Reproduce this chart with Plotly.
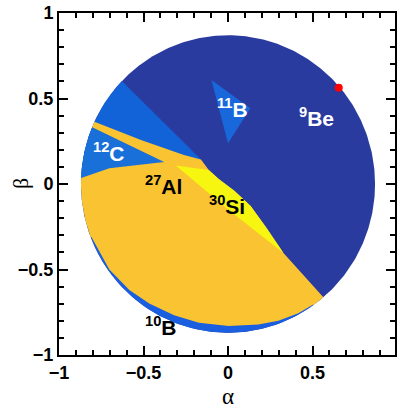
import numpy as np
import plotly.graph_objects as go

# ---------------------------------------------------------------- axes
X_RANGE = [-1.0, 0.988]
Y_RANGE = [-1.0, 1.0]
TICK_VALS = [-1.0, -0.5, 0.0, 0.5, 1.0]
TICK_TEXT = ["\u22121", "\u22120.5", "0", "0.5", "1"]
MINOR_STEP = 0.1

# ------------------------------------------------- (alpha, beta) disk
DISK_RADIUS = 0.87

# upper-left blue wedge (edge points and inner corner points)
WEDGE_EDGE_TOP = (-0.624, 0.598)
WEDGE_EDGE_LOW = (-0.869, -0.030)

# 27Al : top edge of the main region, from the disk edge to the tip
AL27_TOP_ALPHA = [-0.869, -0.702, -0.378]
AL27_TOP_BETA = [0.035, 0.092, 0.128]

# 27Al : thin stripe, lower edge (tip -> disk edge) and upper edge
STRIPE_LOW_ALPHA = [-0.378, -0.515, -0.800]
STRIPE_LOW_BETA = [0.128, 0.193, 0.326]
STRIPE_UP_ALPHA = [-0.790, -0.515, -0.261, -0.160]
STRIPE_UP_BETA = [0.364, 0.257, 0.170, 0.143]

# border between the 9Be region and the 27Al / 30Si regions
BE9_BORDER_ALPHA = [-0.160, -0.114, -0.055, 0.039, 0.134, 0.228, 0.328, 0.445, 0.563]
BE9_BORDER_BETA = [0.143, 0.082, 0.029, -0.041, -0.129, -0.257, -0.404, -0.532, -0.661]

# inner edge of the 10B rim along the bottom of the disk (left -> right)
B10_INNER_ALPHA = [-0.808, -0.702, -0.584, -0.466, -0.319, -0.172, 0.004, 0.180, 0.298, 0.416, 0.504]
B10_INNER_BETA = [-0.310, -0.500, -0.620, -0.699, -0.768, -0.812, -0.830, -0.822, -0.800, -0.756, -0.705]

# 30Si : tip and lower edge (upper edge follows the 9Be border)
SI30_TIP = (-0.309, 0.108)
SI30_LOW_ALPHA = [0.004]
SI30_LOW_BETA = [-0.152]

# 11B triangle
B11_ALPHA = [-0.098, 0.132, 0.000]
B11_BETA = [0.608, 0.443, 0.238]

# marked point
POINT_ALPHA = [0.655]
POINT_BETA = [0.563]

# region labels
LABELS = ["<sup>9</sup>Be", "<sup>11</sup>B", "<sup>12</sup>C",
          "<sup>27</sup>Al", "<sup>30</sup>Si", "<sup>10</sup>B"]
LABEL_ALPHA = [0.521, 0.025, -0.705, -0.384, -0.005, -0.396]
LABEL_BETA = [0.392, 0.447, 0.187, -0.006, -0.123, -0.830]
LABEL_COLORS = ["white", "white", "white", "black", "black", "black"]

# colours
C_BE9 = "#2a3b9f"
C_WEDGE = "#1262d8"
C_C12 = "#1a70d9"
C_B10 = "#1a5fe0"
C_B11 = "#1868dc"
C_AL27 = "#f9c332"
C_SI30 = "#f7f611"


def pts(a, b):
    return list(zip(a, b))


def arc(p, q, ccw, n=120):
    """Points on the disk edge going from the angle of p to the angle of q."""
    a0 = np.arctan2(p[1], p[0])
    a1 = np.arctan2(q[1], q[0])
    if ccw:
        while a1 < a0:
            a1 += 2 * np.pi
    else:
        while a1 > a0:
            a1 -= 2 * np.pi
    t = np.linspace(a0, a1, n)
    return list(zip(DISK_RADIUS * np.cos(t), DISK_RADIUS * np.sin(t)))


def region(points, color):
    xs = [p[0] for p in points]
    ys = [p[1] for p in points]
    return go.Scatter(x=xs, y=ys, mode="lines", fill="toself", fillcolor=color,
                      line=dict(width=0, color=color), hoverinfo="skip",
                      showlegend=False)


al27_top = pts(AL27_TOP_ALPHA, AL27_TOP_BETA)
stripe_low = pts(STRIPE_LOW_ALPHA, STRIPE_LOW_BETA)
stripe_up = pts(STRIPE_UP_ALPHA, STRIPE_UP_BETA)
border = pts(BE9_BORDER_ALPHA, BE9_BORDER_BETA)
b10_inner = pts(B10_INNER_ALPHA, B10_INNER_BETA)

# whole disk (9Be)
full = arc((DISK_RADIUS, 0.0), (DISK_RADIUS, -1e-9), ccw=True, n=400)

# upper-left blue wedge
wedge = [WEDGE_EDGE_TOP] + arc(WEDGE_EDGE_TOP, WEDGE_EDGE_LOW, ccw=True) + [al27_top[-1], stripe_up[-1]]

# 12C triangle
c12 = arc(stripe_low[-1], WEDGE_EDGE_LOW, ccw=True) + stripe_low

# 10B rim (circular segment, covered by 27Al above its inner edge)
b10 = arc(b10_inner[0], b10_inner[-1], ccw=True)

# 27Al
al27 = (al27_top + stripe_low[1:]
        + arc(stripe_low[-1], stripe_up[0], ccw=False)
        + stripe_up + border[1:]
        + arc(border[-1], b10_inner[-1], ccw=False)
        + b10_inner[::-1]
        + arc(b10_inner[0], al27_top[0], ccw=False))

# 30Si
si30 = [SI30_TIP] + border[1:7] + pts(SI30_LOW_ALPHA, SI30_LOW_BETA)

fig = go.Figure()
fig.add_trace(region(full, C_BE9))
fig.add_trace(region(wedge, C_WEDGE))
fig.add_trace(region(c12, C_C12))
fig.add_trace(region(b10, C_B10))
fig.add_trace(region(al27, C_AL27))
fig.add_trace(region(si30, C_SI30))
fig.add_trace(region(pts(B11_ALPHA, B11_BETA), C_B11))
fig.add_trace(go.Scatter(x=POINT_ALPHA, y=POINT_BETA, mode="markers",
                         marker=dict(color="red", size=8, line=dict(width=0)),
                         hoverinfo="skip", showlegend=False))

for text, a, b, c in zip(LABELS, LABEL_ALPHA, LABEL_BETA, LABEL_COLORS):
    fig.add_annotation(x=a, y=b, xref="x", yref="y", text=text, showarrow=False,
                       font=dict(family="Liberation Sans", size=21, color=c, weight="bold"),
                       xanchor="center", yanchor="middle")

tick_font = dict(family="Liberation Sans", size=18, color="black", weight="bold")

# last x tick label sits at the right edge of the frame
fig.add_annotation(x=TICK_VALS[-1], y=-0.041, xref="x", yref="paper", text=TICK_TEXT[-1],
                   showarrow=False, font=tick_font, xanchor="center", yanchor="middle")

# axis titles
fig.add_annotation(x=0.0, y=-0.122, xref="x", yref="paper", text="\u03b1", showarrow=False,
                   font=dict(family="Liberation Serif", size=23, color="black"),
                   xanchor="center", yanchor="middle")
fig.add_annotation(x=-0.116, y=0.0, xref="paper", yref="y", text="\u03b2", showarrow=False,
                   textangle=-90,
                   font=dict(family="Liberation Serif", size=22, color="black"),
                   xanchor="center", yanchor="middle")

axis_common = dict(
    tickmode="array", tickvals=TICK_VALS, ticktext=TICK_TEXT,
    ticks="inside", ticklen=9, tickwidth=2, tickcolor="black",
    showline=True, linewidth=2, linecolor="black", mirror="ticks",
    showgrid=False, zeroline=False, tickfont=tick_font,
    minor=dict(ticks="inside", ticklen=5, tickwidth=1.5, tickcolor="black",
               dtick=MINOR_STEP, tick0=0, showgrid=False),
)
fig.update_xaxes(range=X_RANGE, **axis_common)
fig.update_yaxes(range=Y_RANGE, **axis_common)

fig.update_layout(width=397, height=409, margin=dict(l=59, r=0, t=13, b=54),
                  plot_bgcolor="white", paper_bgcolor="white", showlegend=False)

fig.write_html("out.html")
